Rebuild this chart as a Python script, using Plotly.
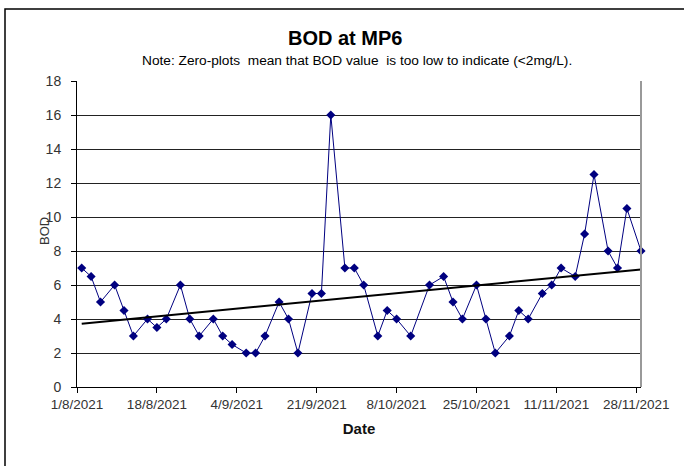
import numpy as np
import pandas as pd
import plotly.graph_objects as go

dates = ["2021-08-02","2021-08-04","2021-08-06","2021-08-09","2021-08-11","2021-08-13","2021-08-16",
         "2021-08-18","2021-08-20","2021-08-23","2021-08-25","2021-08-27","2021-08-30","2021-09-01",
         "2021-09-03","2021-09-06","2021-09-08","2021-09-10","2021-09-13","2021-09-15","2021-09-17",
         "2021-09-20","2021-09-22","2021-09-24","2021-09-27","2021-09-29","2021-10-01","2021-10-04",
         "2021-10-06","2021-10-08","2021-10-11","2021-10-15","2021-10-18","2021-10-20","2021-10-22",
         "2021-10-25","2021-10-27","2021-10-29","2021-11-01","2021-11-03","2021-11-05","2021-11-08",
         "2021-11-10","2021-11-12","2021-11-15","2021-11-17","2021-11-19","2021-11-22","2021-11-24",
         "2021-11-26","2021-11-29"]
bod = [7, 6.5, 5, 6, 4.5, 3, 4, 3.5, 4, 6, 4, 3, 4, 3, 2.5, 2, 2, 3,
       5, 4, 2, 5.5, 5.5, 16, 7, 7, 6, 3, 4.5, 4, 3,
       6, 6.5, 5, 4, 6, 4, 2, 3, 4.5, 4, 5.5, 6, 7, 6.5, 9, 12.5, 8, 7, 10.5, 8]
tick_vals = ["2021-08-01","2021-08-18","2021-09-04","2021-09-21","2021-10-08","2021-10-25","2021-11-11","2021-11-28"]
tick_text = ["1/8/2021","18/8/2021","4/9/2021","21/9/2021","8/10/2021","25/10/2021","11/11/2021","28/11/2021"]
y_ticks = list(range(0, 19, 2))

d = pd.to_datetime(dates)
xd = (d - d[0]).days.values.astype(float)
slope, intercept = np.polyfit(xd, np.array(bod, dtype=float), 1)
trend_x = [dates[0], dates[-1]]
trend_y = [intercept, intercept + slope * xd[-1]]

W, H = 684, 466
L, R, T, B = 77, 43, 81, 79
pw, ph = W - L - R, H - T - B

def px(x):
    return (x - L) / pw

def py(y):
    return (H - B - y) / ph

fig = go.Figure()
fig.add_trace(go.Scatter(x=dates, y=bod, mode="lines+markers",
                         line=dict(color="#000080", width=1),
                         marker=dict(symbol="diamond", size=7, color="#000080"),
                         cliponaxis=False, showlegend=False))
fig.add_trace(go.Scatter(x=trend_x, y=trend_y, mode="lines",
                         line=dict(color="#000000", width=2),
                         cliponaxis=False, showlegend=False))

fig.update_layout(
    width=W, height=H,
    margin=dict(l=L, r=R, t=T, b=B),
    paper_bgcolor="white", plot_bgcolor="white",
    font=dict(family="Arial, Liberation Sans, sans-serif", color="#333333"),
    xaxis=dict(type="date", range=["2021-08-01", "2021-11-29"],
               tickvals=tick_vals, ticktext=tick_text,
               tickfont=dict(size=13.5), ticks="outside", ticklen=5, tickcolor="#000",
               showgrid=False, showline=True, linecolor="#000", linewidth=1,
               zeroline=False,
               title=dict(text="<b>Date</b>", font=dict(size=15, color="#111"), standoff=12)),
    yaxis=dict(range=[0, 18], tickvals=y_ticks, tickfont=dict(size=14),
               ticks="outside", ticklen=5, tickcolor="#000", ticklabelstandoff=7,
               showgrid=True, gridcolor="#222222", gridwidth=1,
               showline=True, linecolor="#000", linewidth=1, zeroline=False),
    shapes=[
        dict(type="line", xref="paper", yref="paper", x0=1, x1=1, y0=0, y1=1,
             line=dict(color="#999999", width=2)),
        dict(type="rect", xref="paper", yref="paper",
             x0=px(5), x1=px(W + 20), y0=py(H + 20), y1=py(9),
             line=dict(color="#000", width=1.5), layer="below"),
    ],
    annotations=[
        dict(text="<b>BOD at MP6</b>", xref="paper", yref="paper",
             x=px(345), y=py(38), showarrow=False, xanchor="center", yanchor="middle",
             font=dict(size=20, color="#000")),
        dict(text="Note: Zero-plots\u00a0 mean that BOD value\u00a0 is too low to indicate (<2mg/L).",
             xref="paper", yref="paper", x=px(357), y=py(60), showarrow=False,
             xanchor="center", yanchor="middle", font=dict(size=13.7, color="#000")),
        dict(text="BOD", xref="paper", yref="paper", x=px(44), y=py(231), textangle=-90,
             showarrow=False, xanchor="center", yanchor="middle",
             font=dict(size=13, color="#333")),
    ],
)

fig.write_html("out.html", config={"displayModeBar": False},
               post_script="document.body.style.margin='0';")
